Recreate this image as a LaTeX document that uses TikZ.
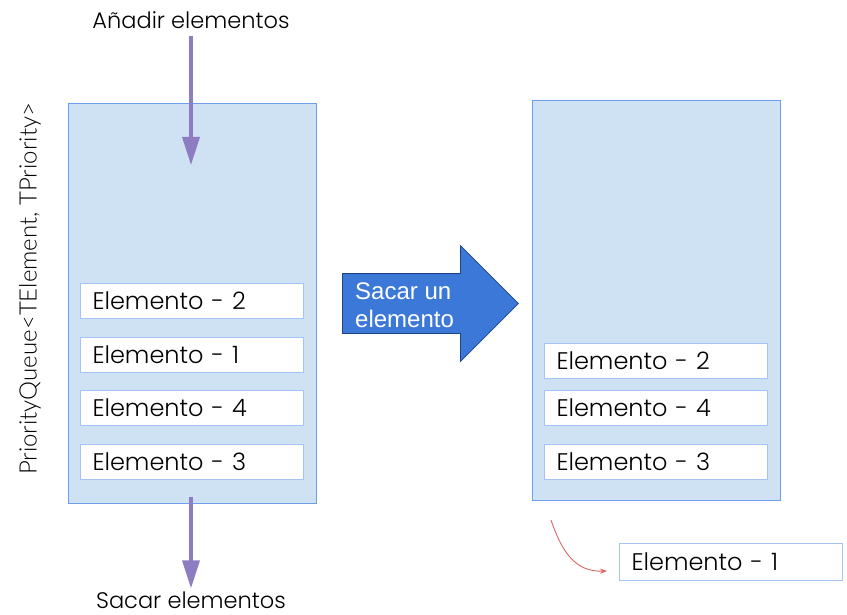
\documentclass[tikz,border=0pt]{standalone}
\usepackage{fontspec}
\setmainfont{Poppins}[UprightFont=* Light]
\newfontfamily\arialfont{Liberation Sans}
\newfontfamily\calfont{Lato}[UprightFont=* Light]
\usetikzlibrary{arrows.meta,positioning,shapes.arrows}
\definecolor{qfill}{HTML}{CFE2F3}
\definecolor{qline}{HTML}{6D9EEB}
\definecolor{eline}{HTML}{A4C2F4}
\definecolor{purp}{HTML}{8E7CC3}
\definecolor{bigblue}{HTML}{3C78D8}
\definecolor{bigline}{HTML}{1C4587}
\definecolor{redarr}{HTML}{E06666}
\tikzset{
  queue/.style={draw=qline, fill=qfill, line width=1pt, minimum width=248pt, minimum height=399pt, inner sep=0pt},
  elem/.style={draw=eline, fill=white, line width=0.8pt, minimum width=223pt, minimum height=35pt,
    inner sep=0pt, font=\fontsize{24}{26}\selectfont, text width=198pt, align=left},
  flow/.style={draw=purp, line width=3.5pt, -{Triangle[width=17pt,length=28pt]}},
  caption/.style={font=\fontsize{22.5}{26}\selectfont, inner sep=0pt},
}
\begin{document}
\begin{tikzpicture}[x=1pt, y=-1pt]
\useasboundingbox (0,0) rectangle (847,615);
% --- left queue ---
\node[queue] (qa) at (192,303.5) {};
\node[elem] (a2) at (191.5,300.5) {Elemento - 2};
\node[elem] (a1) at (191.5,354.5) {Elemento - 1};
\node[elem] (a4) at (191.5,408) {Elemento - 4};
\node[elem] (a3) at (191.5,461.5) {Elemento - 3};
\node[font=\calfont\fontsize{24}{28}\selectfont, rotate=90, inner sep=0pt] (qname) at (30,289) {PriorityQueue<TElement, TPriority>};
\node[caption] (add) at (191,20) {Añadir elementos};
\node[caption] (take) at (191,600) {Sacar elementos};
\coordinate (addtip) at (191,165);
\coordinate (takefrom) at (191,497);
\draw[flow] (add.south) ++(0,7) coordinate (addfrom) -- (addtip);
\draw[flow, shorten >=3pt] (takefrom) -- (take.north);
% --- big arrow ---
\node[single arrow, draw=bigline, fill=bigblue, line width=0.8pt, minimum height=176pt,
  inner xsep=0pt, inner ysep=29.5pt, single arrow head extend=28pt, anchor=west] (pop) at (342,303.5) {};
\node[font=\arialfont\fontsize{24}{28}\selectfont, text=white, align=left, anchor=west, inner sep=0pt] (poptext) at (355,305) {Sacar un\\elemento};
% --- right queue ---
\node[queue] (qb) at (656,300.5) {};
\node[elem] (b2) at (655.5,360.5) {Elemento - 2};
\node[elem] (b4) at (655.5,408) {Elemento - 4};
\node[elem] (b3) at (655.5,461.5) {Elemento - 3};
\node[elem, minimum height=37pt] (out) at (730.5,561.5) {Elemento - 1};
\coordinate (curvefrom) at (551,520);
\coordinate (curveto) at (607,571);
\draw[redarr, line width=0.9pt, -{Stealth[length=7pt]}] (curvefrom) .. controls (562,552) and (575,572) .. (curveto);
\end{tikzpicture}
\end{document}
